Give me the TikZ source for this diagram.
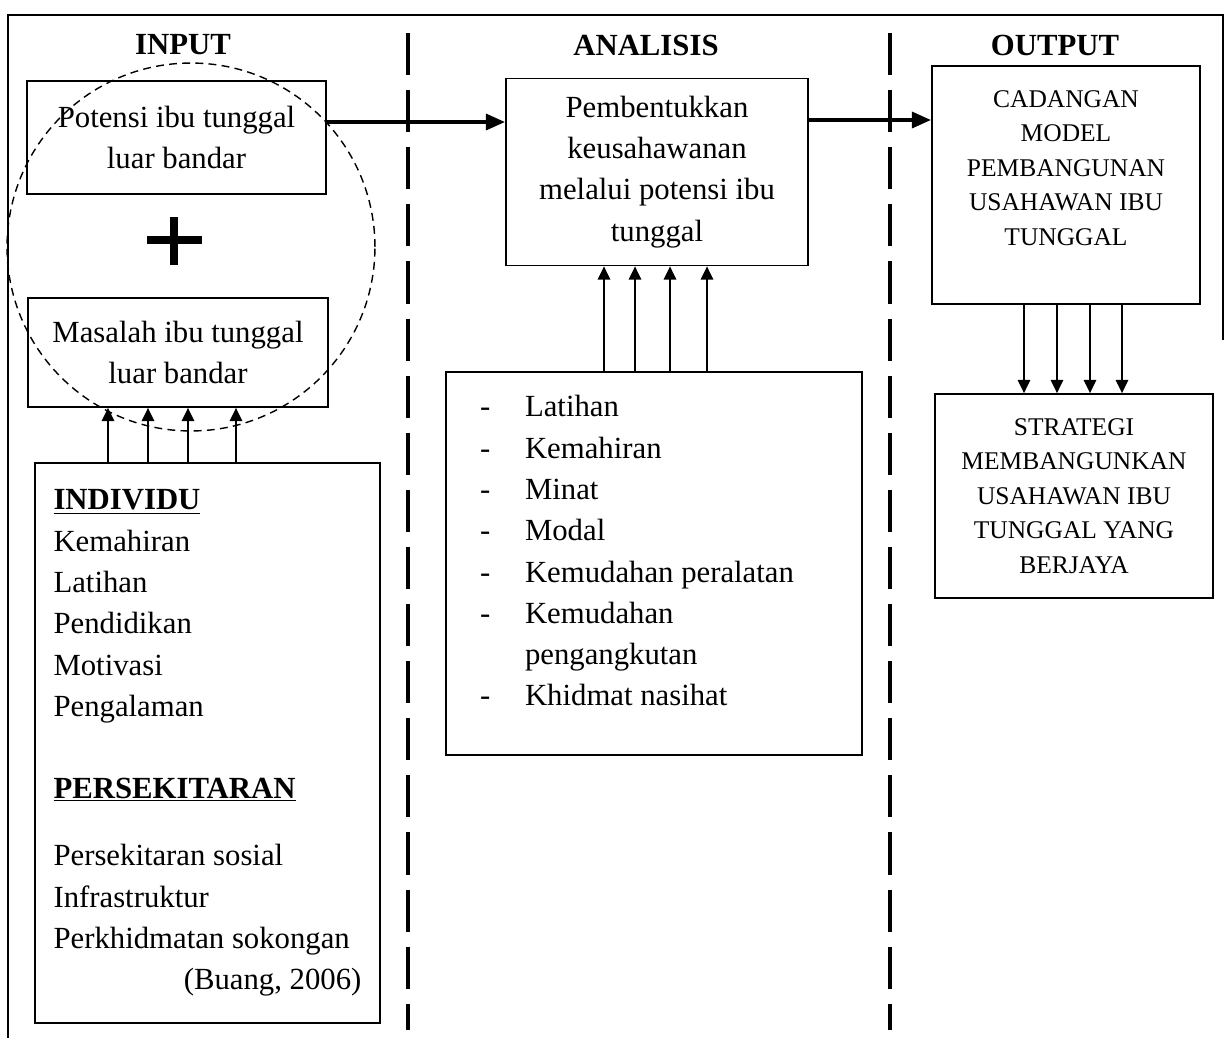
\documentclass[tikz,border=0pt]{standalone}
\usepackage{fontspec}
\setmainfont{Liberation Serif}
\usetikzlibrary{positioning,arrows.meta}

\newcommand{\bigtxt}{\fontsize{17.5}{23.5}\selectfont}
\newcommand{\captxt}{\fontsize{14.5}{19.6}\selectfont}
\newcommand{\dashitem}[1]{\makebox[0.9cm][l]{-}#1}

\begin{document}
\begin{tikzpicture}[x=0.02cm, y=-0.02cm]

        % Styles for the boxes, the headings and the arrows
        \tikzset{
            box/.style={draw, line width=1pt, inner sep=0pt, align=center, font=\bigtxt},
            capbox/.style={box, font=\captxt},
            head/.style={font=\bfseries\bigtxt},
            uparr/.style={line width=1.1pt, -{Triangle[length=7.5pt,width=7pt]}},
            bigarr/.style={line width=2.3pt, -{Triangle[length=11pt,width=9pt]}},
            divider/.style={line width=2.2pt, dash pattern=on 24pt off 8.5pt}
        }

        \useasboundingbox (0,0) rectangle (1227,1038);

        % Frame and the two dividers
        \draw[line width=1pt] (8,1038) -- (8,15) -- (1223,15) -- (1223,340);
        \draw[divider] (408,33) -- (408,1030);
        \draw[divider] (890,33) -- (890,1030);

        % Scope with the headings and the boxes
        \begin{scope}
            \node[head] (hinput) at (183,45) {INPUT};
            \node[head] (hanalisis) at (646,45) {ANALISIS};
            \node[head] (houtput) at (1055,45) {OUTPUT};

            \node[box, minimum width=5.98cm, minimum height=2.26cm] (potensi) at (176.5,137.5)
            {Potensi ibu tunggal\\luar bandar};
            \node[box, minimum width=6cm, minimum height=2.18cm] (masalah) at (178,352.5)
            {Masalah ibu tunggal\\luar bandar};
            \node[box, align=flush left, text width=6.16cm, inner xsep=0.37cm,
                minimum height=11.2cm] (individu) at (207.5,743)
            {\underline{\textbf{INDIVIDU}}\\
             Kemahiran\\
             Latihan\\
             Pendidikan\\
             Motivasi\\
             Pengalaman\\[23pt]
             \underline{\textbf{PERSEKITARAN}}\\[15pt]
             Persekitaran sosial\\
             Infrastruktur\\
             Perkhidmatan sokongan\\
             \hfill(Buang, 2006)};

            \node[box, minimum width=6.04cm, minimum height=3.74cm] (pembentukkan) at (657,172)
            {Pembentukkan\\keusahawanan\\melalui potensi ibu\\tunggal};
            \node[box, align=flush left, text width=6.96cm, inner xsep=0.68cm,
                minimum height=7.66cm] (faktor) at (654,563.5)
            {\dashitem{Latihan}\\
             \dashitem{Kemahiran}\\
             \dashitem{Minat}\\
             \dashitem{Modal}\\
             \dashitem{Kemudahan peralatan}\\
             \dashitem{Kemudahan}\\
             \hspace*{0.9cm}pengangkutan\\
             \dashitem{Khidmat nasihat}\\[-9pt]
             \mbox{}};

            \node[capbox, minimum width=5.36cm, minimum height=4.76cm] (cadangan) at (1066,185)
            {CADANGAN\\MODEL\\PEMBANGUNAN\\USAHAWAN IBU\\TUNGGAL\\\mbox{}};
            \node[capbox, minimum width=5.56cm, minimum height=4.08cm] (strategi) at (1074,496)
            {STRATEGI\\MEMBANGUNKAN\\USAHAWAN IBU\\TUNGGAL YANG\\BERJAYA};
        \end{scope}

        % Dashed circle round the two input boxes, and the plus
        \draw[line width=0.8pt, dash pattern=on 4.5pt off 3pt] (191,247) circle [radius=3.68cm];
        \draw[line width=4.5pt] (147,240) -- (202,240);
        \draw[line width=4.5pt] (174,217) -- (174,265);

        \begin{scope}
            \draw[bigarr] (potensi.east |- 0,122) -- (pembentukkan.west |- 0,122);
            \draw[bigarr] (pembentukkan.east |- 0,120) -- (cadangan.west |- 0,120);

            \foreach\x in {108,148,188,236}
            \draw[uparr] (\x,0 |- individu.north) -- (\x,0 |- masalah.south);
            \foreach\x in {604,635,670,707}
            \draw[uparr] (\x,0 |- faktor.north) -- (\x,0 |- pembentukkan.south);
            \foreach\x in {1024,1057,1090,1122}
            \draw[uparr] (\x,0 |- cadangan.south) -- (\x,0 |- strategi.north);
        \end{scope}

\end{tikzpicture}
\end{document}
